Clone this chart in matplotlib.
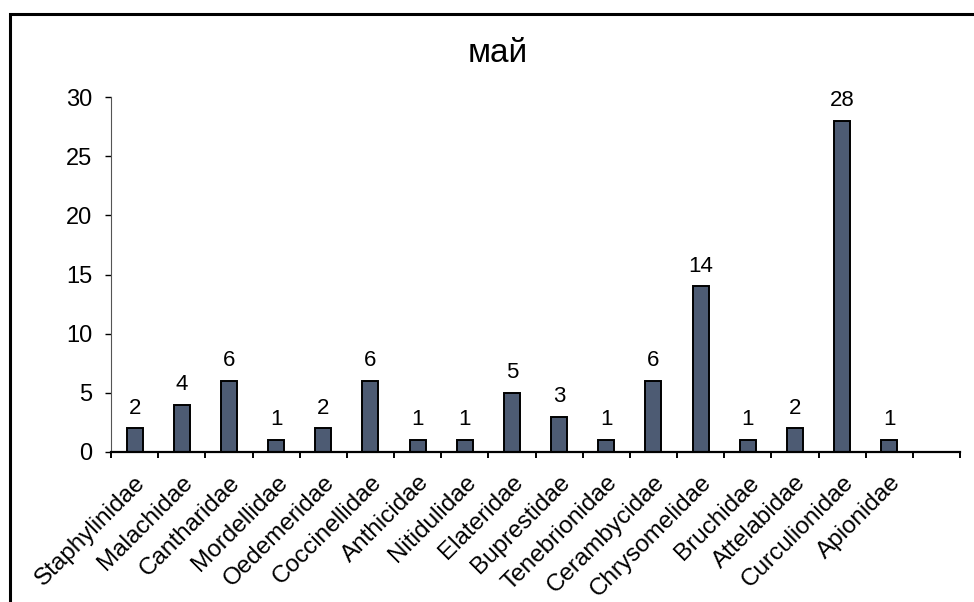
import matplotlib
matplotlib.use("Agg")
import matplotlib.pyplot as plt
from matplotlib.patches import Rectangle

families = ["Staphylinidae", "Malachidae", "Cantharidae", "Mordellidae",
            "Oedemeridae", "Coccinellidae", "Anthicidae", "Nitidulidae",
            "Elateridae", "Buprestidae", "Tenebrionidae", "Cerambycidae",
            "Chrysomelidae", "Bruchidae", "Attelabidae", "Curculionidae",
            "Apionidae"]
counts = [2, 4, 6, 1, 2, 6, 1, 1, 5, 3, 1, 6, 14, 1, 2, 28, 1]
yticks = [0, 5, 10, 15, 20, 25, 30]

plt.rcParams.update({"font.family": ["Liberation Sans", "DejaVu Sans"]})

fig = plt.figure(figsize=(9.74, 6.02), dpi=100)
ax = fig.add_axes([111 / 974, 1 - 452 / 602, (960 - 111) / 974, (452 - 97) / 602])

x = list(range(len(families)))
bars = ax.bar(x, counts, width=0.34, color="#4d5b73", edgecolor="black", linewidth=1.4)
for b, v in zip(bars, counts):
    ax.text(b.get_x() + b.get_width() / 2, v + 1.25, str(v),
            ha="center", va="baseline", fontsize=16)

# one empty slot after the last category, as in the source chart
ax.set_xlim(-0.5, len(families) + 0.5)
ax.set_ylim(0, 30)
ax.set_yticks(yticks)
ax.set_xticks([i - 0.5 for i in range(len(families) + 2)])
ax.set_xticklabels([])
ax.set_xticks(x, minor=True)
ax.set_xticklabels(families, minor=True, rotation=45, ha="right",
                   rotation_mode="anchor", fontsize=17.5)
ax.tick_params(axis="x", which="minor", length=0, pad=14)
ax.tick_params(axis="x", which="major", direction="out", length=4.5, width=1.4)
ax.tick_params(axis="y", direction="out", length=4.5, width=1, labelsize=17, pad=9)

for s in ("top", "right"):
    ax.spines[s].set_visible(False)
ax.spines["left"].set_color("#555555")
ax.spines["bottom"].set_linewidth(1.6)

fig.text(498 / 974, 1 - 62 / 602, "май", ha="center", va="baseline", fontsize=24)

# outer frame (only left and top edges visible in the crop)
fig.add_artist(Rectangle((10 / 974, -0.1), 2, 1.1 - 14 / 602,
                         transform=fig.transFigure, fill=False,
                         edgecolor="black", linewidth=2.2))

fig.savefig("out.png", dpi=100)
